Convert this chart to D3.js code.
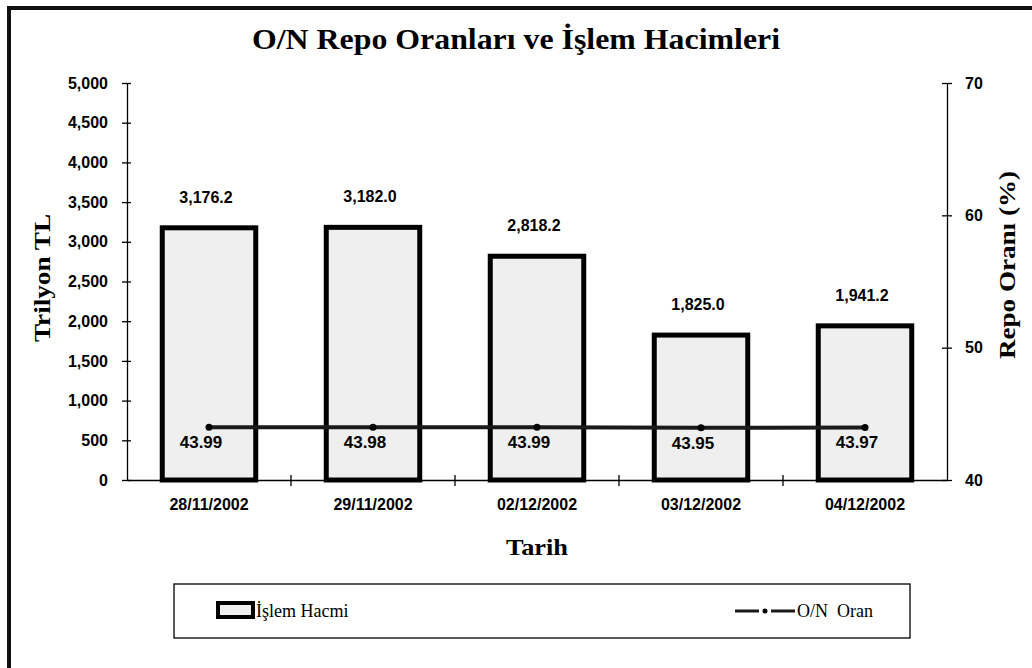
<!DOCTYPE html>
<html>
<head>
<meta charset="utf-8">
<script src="https://cdn.jsdelivr.net/npm/d3@7"></script>
<style>
  body { margin: 0; background: #fff; }
  svg { display: block; }
</style>
</head>
<body>
<script>
// chart data
var dates = ['28/11/2002', '29/11/2002', '02/12/2002', '03/12/2002', '04/12/2002'];
var volumes = [3176.2, 3182.0, 2818.2, 1825.0, 1941.2];
var rates = [43.99, 43.98, 43.99, 43.95, 43.97];
var volTicks = [0, 500, 1000, 1500, 2000, 2500, 3000, 3500, 4000, 4500, 5000];
var rateTicks = [40, 50, 60, 70];

var W = 1032, H = 668;
// plot area ("top" is taken by window.top, so use own names)
var plotL = 127, plotR = 947, plotT = 83, plotB = 480;

var sans = '"Liberation Sans", Arial, sans-serif';
var serif = '"Liberation Serif", "Times New Roman", serif';

var svg = d3.select('body').append('svg')
  .attr('width', W)
  .attr('height', H);

// outer frame (only top and left edges show in the picture)
svg.append('rect')
  .attr('x', 9).attr('y', 8)
  .attr('width', W + 20).attr('height', H + 20)
  .attr('fill', 'none')
  .attr('stroke', '#111')
  .attr('stroke-width', 4);

var x = d3.scaleBand()
  .domain(dates)
  .range([plotL, plotR])
  .paddingInner(0.43)
  .paddingOuter(0.215);

var xOuter = d3.scaleBand().domain(dates).range([plotL, plotR]);

var y = d3.scaleLinear().domain([0, 5000]).range([plotB, plotT]);
var y2 = d3.scaleLinear().domain([40, 70]).range([plotB, plotT]);

var fmtVol = d3.format(',.1f');

// title
svg.append('text')
  .attr('x', 516).attr('y', 49)
  .attr('text-anchor', 'middle')
  .attr('textLength', 528)
  .attr('lengthAdjust', 'spacingAndGlyphs')
  .style('font-family', serif)
  .style('font-weight', 'bold')
  .style('font-size', '29px')
  .text('O/N Repo Oranları ve İşlem Hacimleri');

// bars
svg.append('g')
  .selectAll('rect')
  .data(dates)
  .enter()
  .append('rect')
    .attr('x', d => x(d))
    .attr('y', (d, i) => y(volumes[i]))
    .attr('width', x.bandwidth())
    .attr('height', (d, i) => plotB - y(volumes[i]))
    .attr('fill', '#efefef')
    .attr('stroke', '#000')
    .attr('stroke-width', 5);

// bar value labels
svg.append('g')
  .selectAll('text')
  .data(dates)
  .enter()
  .append('text')
    .attr('x', d => x(d) + x.bandwidth() / 2 - 3)
    .attr('y', (d, i) => y(volumes[i]) - 25)
    .attr('text-anchor', 'middle')
    .style('font-family', sans)
    .style('font-weight', 'bold')
    .style('font-size', '16px')
    .text((d, i) => fmtVol(volumes[i]));

// rate line
var cx = (d, i) => xOuter(dates[i]) + xOuter.bandwidth() / 2;

var line = d3.line()
  .x(cx)
  .y(d => y2(d));

svg.append('path')
  .datum(rates)
  .attr('d', line)
  .attr('fill', 'none')
  .attr('stroke', '#1a1a1a')
  .attr('stroke-width', 4);

svg.append('g')
  .selectAll('circle')
  .data(rates)
  .enter()
  .append('circle')
    .attr('cx', cx)
    .attr('cy', d => y2(d))
    .attr('r', 3.5)
    .attr('fill', '#000');

svg.append('g')
  .selectAll('text')
  .data(rates)
  .enter()
  .append('text')
    .attr('x', (d, i) => cx(d, i) - 8)
    .attr('y', d => y2(d) + 21)
    .attr('text-anchor', 'middle')
    .style('font-family', sans)
    .style('font-weight', 'bold')
    .style('font-size', '17px')
    .text(d => d.toFixed(2));

var tickFont = function(g) {
  g.selectAll('text')
    .style('font-family', sans)
    .style('font-weight', 'bold')
    .style('font-size', '16px')
    .attr('fill', '#000');
  g.selectAll('line, path').attr('stroke', '#000').attr('stroke-width', 1.3);
};

// left axis
var gy = svg.append('g')
  .attr('transform', 'translate(' + plotL + ',0)')
  .call(d3.axisLeft(y).tickValues(volTicks).tickFormat(d3.format(',')).tickSize(4).tickSizeOuter(0).tickPadding(15))
  .call(tickFont);
gy.selectAll('.tick line').attr('x1', -5).attr('x2', 4);

// right axis
var gy2 = svg.append('g')
  .attr('transform', 'translate(' + plotR + ',0)')
  .call(d3.axisRight(y2).tickValues(rateTicks).tickSize(4).tickSizeOuter(0).tickPadding(14))
  .call(tickFont);
gy2.selectAll('.tick line').attr('x1', -5).attr('x2', 5);

// x axis, ticks at band boundaries
var gx = svg.append('g')
  .attr('transform', 'translate(0,' + plotB + ')')
  .call(d3.axisBottom(xOuter).tickSize(0).tickPadding(19))
  .call(tickFont);
gx.select('.domain').attr('stroke-width', 1.5);

svg.append('g')
  .selectAll('line')
  .data(dates.slice(1))
  .enter()
  .append('line')
    .attr('x1', d => xOuter(d))
    .attr('x2', d => xOuter(d))
    .attr('y1', plotB - 5)
    .attr('y2', plotB + 6)
    .attr('stroke', '#000')
    .attr('stroke-width', 1.3);

// axis titles
var serifBold = function(t, size, len) {
  t.style('font-family', serif)
   .style('font-weight', 'bold')
   .style('font-size', size + 'px')
   .attr('textLength', len)
   .attr('lengthAdjust', 'spacingAndGlyphs');
};

svg.append('text')
  .attr('transform', 'translate(50,278) rotate(-90)')
  .attr('text-anchor', 'middle')
  .call(serifBold, 23, 128)
  .text('Trilyon TL');

svg.append('text')
  .attr('transform', 'translate(1015,265) rotate(-90)')
  .attr('text-anchor', 'middle')
  .call(serifBold, 23, 188)
  .text('Repo Oranı (%)');

svg.append('text')
  .attr('x', 537).attr('y', 555)
  .attr('text-anchor', 'middle')
  .call(serifBold, 23, 62)
  .text('Tarih');

// legend
var legend = svg.append('g');
legend.append('rect')
  .attr('x', 174).attr('y', 584)
  .attr('width', 736).attr('height', 54)
  .attr('fill', 'none')
  .attr('stroke', '#000')
  .attr('stroke-width', 1.3);

legend.append('rect')
  .attr('x', 218).attr('y', 603)
  .attr('width', 35).attr('height', 14)
  .attr('fill', '#efefef')
  .attr('stroke', '#000')
  .attr('stroke-width', 4);

legend.append('text')
  .attr('x', 256).attr('y', 617)
  .style('font-family', serif)
  .style('font-size', '18px')
  .text('İşlem Hacmi');

legend.append('line')
  .attr('x1', 735).attr('x2', 795)
  .attr('y1', 611).attr('y2', 611)
  .attr('stroke', '#1a1a1a')
  .attr('stroke-width', 3)
  .attr('stroke-dasharray', '24,12,24');

legend.append('circle')
  .attr('cx', 765).attr('cy', 611)
  .attr('r', 2.5)
  .attr('fill', '#000');

legend.append('text')
  .attr('x', 797).attr('y', 617)
  .style('font-family', serif)
  .style('font-size', '18px')
  .style('white-space', 'pre')
  .text('O/N  Oran');
</script>
</body>
</html>
